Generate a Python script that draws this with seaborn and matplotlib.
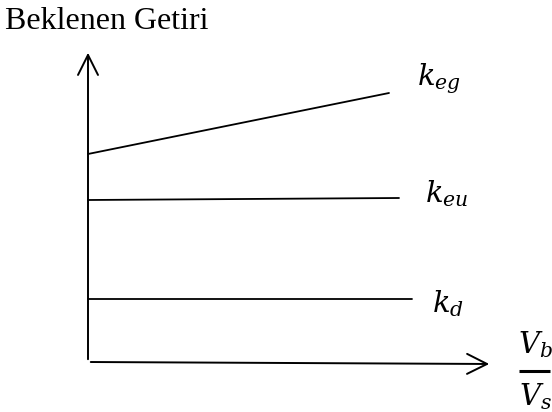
import pandas as pd
import seaborn as sns
import matplotlib.pyplot as plt
from matplotlib.patches import FancyArrowPatch

# leverage axis (V_b / V_s) and expected returns, in diagram units
series = ["k_eg", "k_eu", "k_d"]
x_start = [0, 0, 0]
x_end = [301, 311, 324]
y_start = [208, 162, 63]
y_end = [269, 164, 63]
labels = [r"$k_{eg}$", r"$k_{eu}$", r"$k_{d}$"]
label_x = [329, 337, 344]
label_y = [277, 160, 50]

rows = []
for s, x0, x1, y0, y1 in zip(series, x_start, x_end, y_start, y_end):
    rows.append({"seri": s, "x": x0, "y": y0})
    rows.append({"seri": s, "x": x1, "y": y1})
df = pd.DataFrame(rows)

sns.set_style("white")
plt.rcParams["font.family"] = ["Liberation Serif", "DejaVu Serif"]
plt.rcParams["mathtext.fontset"] = "dejavuserif"
plt.rcParams["text.color"] = "black"

fig = plt.figure(figsize=(5.52, 4.12), dpi=100)
ax = fig.add_axes([0, 0, 1, 1])
sns.lineplot(data=df, x="x", y="y", hue="seri", palette=["black"] * 3,
             linewidth=1.3, legend=False, ax=ax, estimator=None, sort=False)

# axes drawn as arrows
for start, end in [((0, 0), (0, 312)), ((0, 0), (404, -2))]:
    ax.add_patch(FancyArrowPatch(start, end, arrowstyle="->,head_length=0.4,head_width=0.2",
                                 mutation_scale=36, lw=1.4, color="black"))

for lab, lx, ly in zip(labels, label_x, label_y):
    ax.text(lx, ly, lab, fontsize=21, va="baseline", ha="left", color="black")

# x axis label: V_b / V_s fraction
ax.text(447, 9, r"$V_b$", fontsize=21, va="baseline", ha="center", color="black")
ax.plot([431, 462], [-9, -9], color="black", lw=2.2, solid_capstyle="butt")
ax.text(447, -43, r"$V_s$", fontsize=21, va="baseline", ha="center", color="black")
ax.text(-83, 333, "Beklenen Getiri", fontsize=23, va="baseline", ha="left", color="black")

ax.set_xlim(-88, 464)
ax.set_ylim(-50, 362)
ax.axis("off")
fig.savefig("out.png", dpi=100)
